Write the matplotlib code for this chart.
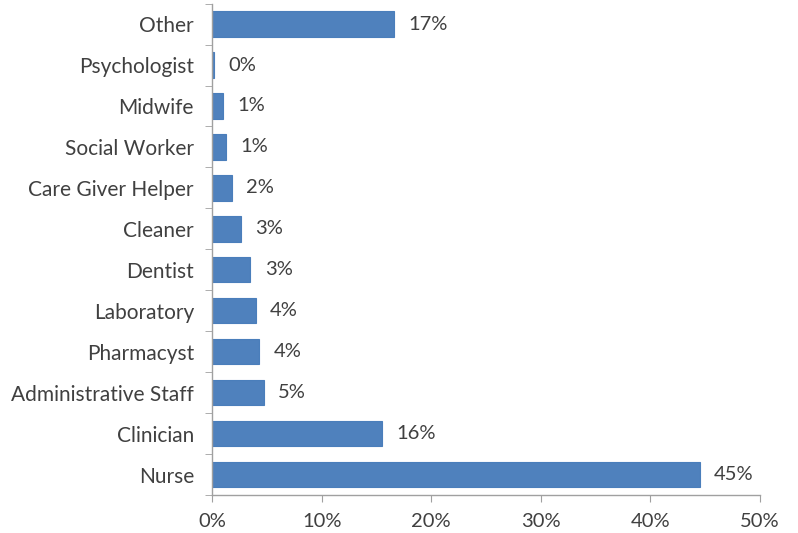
import numpy as np
import matplotlib.pyplot as plt

# categories from bottom to top
categories = ['Nurse', 'Clinician', 'Administrative Staff', 'Pharmacyst', 'Laboratory',
              'Dentist', 'Cleaner', 'Care Giver Helper', 'Social Worker', 'Midwife',
              'Psychologist', 'Other']
values = [44.5, 15.5, 4.7, 4.3, 4.0, 3.5, 2.6, 1.8, 1.3, 1.0, 0.2, 16.6]
value_labels = ['45%', '16%', '5%', '4%', '4%', '3%', '3%', '2%', '1%', '1%', '0%', '17%']
x_ticks = [0, 10, 20, 30, 40, 50]

plt.rcParams['font.family'] = ['Lato', 'DejaVu Sans']

fig = plt.figure(figsize=(7.98, 5.33), dpi=100)
ax = fig.add_axes([0.2657, 0.0713, 0.9524 - 0.2657, 0.9932 - 0.0713])

y = np.arange(len(categories))
ax.barh(y, values, height=0.62, color='#4F81BD', edgecolor='#4A7EBB', linewidth=0.8)

for yi, v, lab in zip(y, values, value_labels):
    ax.text(v + 1.3, yi, lab, va='center', ha='left', fontsize=14.5, color='#404040')

ax.set_xlim(0, 50)
ax.set_ylim(-0.5, len(categories) - 0.5)
ax.set_xticks(x_ticks)
ax.set_xticklabels([f'{t}%' for t in x_ticks])
ax.set_yticks(y)
ax.set_yticklabels(categories)
ax.set_yticks(np.arange(-0.5, len(categories), 1), minor=True)

ax.tick_params(axis='y', which='major', length=0, pad=13, labelsize=15, labelcolor='#404040')
ax.tick_params(axis='y', which='minor', length=5, direction='out', color='#a0a0a0')
ax.tick_params(axis='x', length=5, direction='out', color='#a0a0a0', labelsize=14.5,
               labelcolor='#404040', pad=8)

for s in ['top', 'right']:
    ax.spines[s].set_visible(False)
for s in ['left', 'bottom']:
    ax.spines[s].set_color('#a0a0a0')
    ax.spines[s].set_linewidth(1)

fig.savefig('out.png', dpi=100)
